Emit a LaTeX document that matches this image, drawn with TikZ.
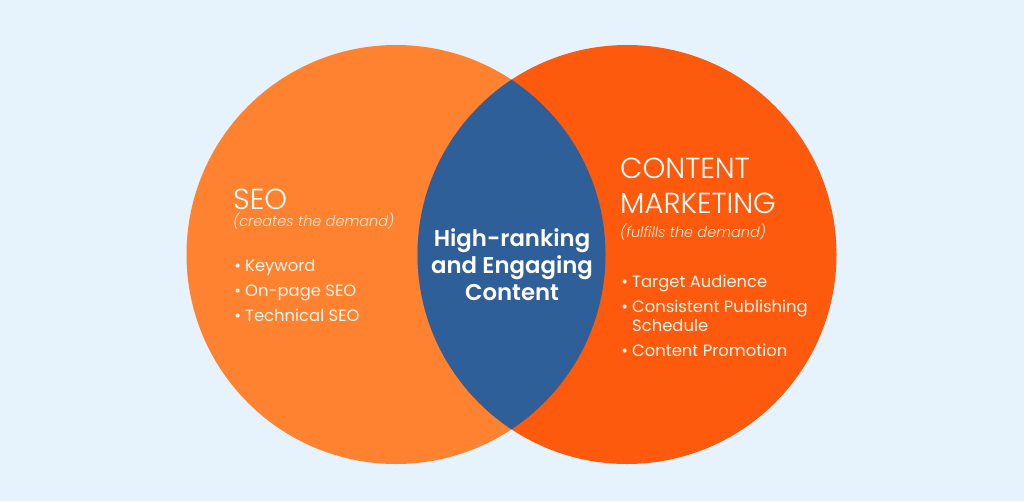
\documentclass[tikz,border=0pt]{standalone}
\usepackage{fontspec}
\setmainfont{Poppins}
\newfontfamily\poplight{Poppins Light}
\newfontfamily\popitalic{Poppins Light Italic}
\newfontfamily\popsemi{Poppins SemiBold}
\definecolor{pagebg}{HTML}{E6F3FC}
\definecolor{seoorange}{HTML}{FE8230}
\definecolor{contentred}{HTML}{FE5A0E}
\definecolor{lensblue}{HTML}{2F5F99}
\tikzset{
  heading/.style={anchor=base west,inner sep=0pt,text=white,font=\poplight\fontsize{29}{34}\selectfont},
  subheading/.style={anchor=base west,inner sep=0pt,text=white!85!orange,font=\popitalic\fontsize{14.5}{17}\selectfont},
  listitem/.style={anchor=base west,inner sep=0pt,text=white!92!orange,font=\fontsize{16.4}{20}\selectfont},
  overlap/.style={align=center,inner sep=0pt,text=white,font=\popsemi\fontsize{22.8}{27}\selectfont},
}
\newcommand{\itemdot}{\llap{\textbullet\hspace{4pt}}}
\begin{document}
\begin{tikzpicture}[x=1pt,y=-1pt]
  \useasboundingbox (0,0) rectangle (1024,501);
  \fill[pagebg] (0,0) rectangle (1024,501);
  \fill[seoorange] (396,254.5) circle (209.5);
  \fill[contentred] (627,254.5) circle (209.5);
  \begin{scope}
    \clip (396,254.5) circle (209.5);
    \fill[lensblue] (627,254.5) circle (209.5);
  \end{scope}

  \node[heading] (seo) at (233,209) {SEO};
  \node[subheading] (creates) at (233,226) {(creates the demand)};
  \node[listitem] (keyword) at (245,271.5) {\itemdot Keyword};
  \node[listitem] (onpage) at (245,296.5) {\itemdot On-page SEO};
  \node[listitem] (technical) at (245,321.5) {\itemdot Technical SEO};

  \node[overlap] (middle) at (512,265) {High-ranking\\and Engaging\\Content};

  \node[heading] (content) at (620,178) {CONTENT};
  \node[heading] (marketing) at (620,213) {MARKETING};
  \node[subheading] (fulfills) at (620,237) {(fulfills the demand)};
  \node[listitem] (target) at (632,287.5) {\itemdot Target Audience};
  \node[listitem] (consistent) at (632,312) {\itemdot Consistent Publishing};
  \node[listitem] (schedule) at (632,331.5) {Schedule};
  \node[listitem] (promotion) at (632,356) {\itemdot Content Promotion};
\end{tikzpicture}
\end{document}
